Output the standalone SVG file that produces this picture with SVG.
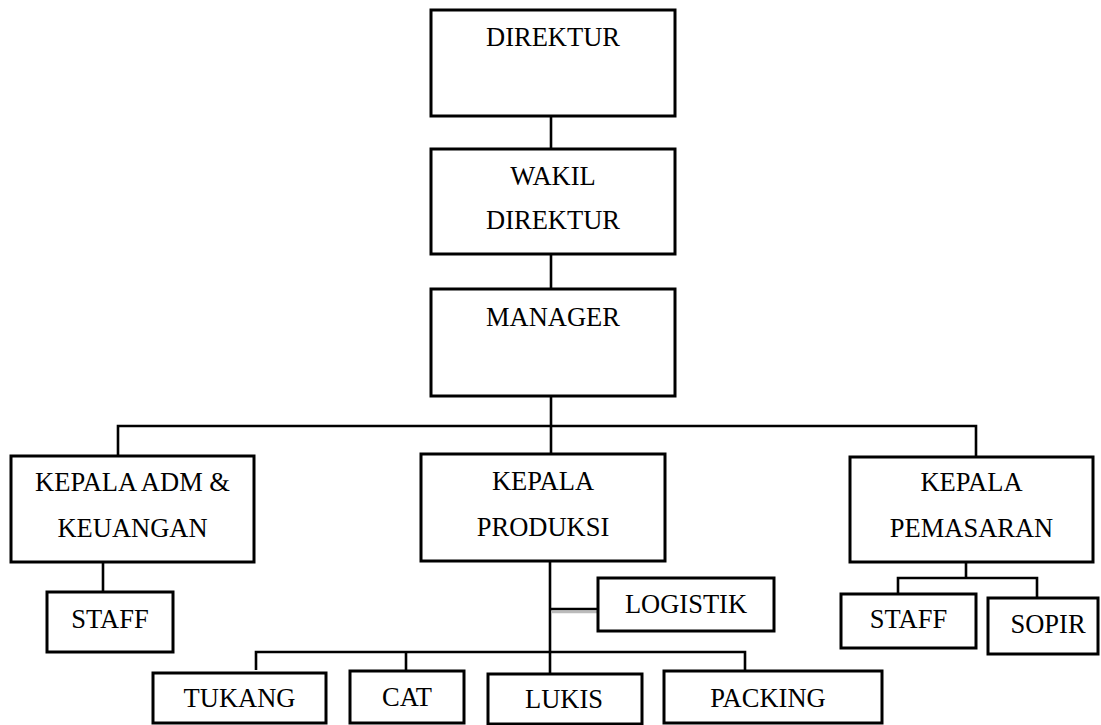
<svg xmlns="http://www.w3.org/2000/svg" width="1101" height="725" viewBox="0 0 1101 725">
<style>
.box{fill:#fff;stroke:#000;stroke-width:3}
.ln{fill:none;stroke:#000;stroke-width:2.6}
text{font-family:"Liberation Serif","Times New Roman",Tinos,serif;font-size:26.5px;fill:#000;text-anchor:middle}
</style>
<rect width="1101" height="725" fill="#fff"/>
<g id="connectors">
<line class="ln" x1="551" y1="116" x2="551" y2="149"/>
<line class="ln" x1="551" y1="254" x2="551" y2="289"/>
<line class="ln" x1="551" y1="396" x2="551" y2="454"/>
<polyline class="ln" points="118,456 118,426 976,426 976,457"/>
<line class="ln" x1="103" y1="562" x2="103" y2="592"/>
<line class="ln" x1="550" y1="561" x2="550" y2="674"/>
<line x1="551" y1="612" x2="598" y2="612" stroke="#bbb" stroke-width="2.5"/>
<line class="ln" x1="550" y1="609" x2="598" y2="609"/>
<polyline class="ln" points="256,670 256,652 745,652 745,671"/>
<line class="ln" x1="406" y1="652" x2="406" y2="671"/>
<line class="ln" x1="966" y1="562" x2="966" y2="578"/>
<polyline class="ln" points="898,594 898,578 1037,578 1037,598"/>
</g>
<g id="direktur"><rect class="box" x="431" y="10" width="244" height="106"/><text x="553" y="46">DIREKTUR</text></g>
<g id="wakil"><rect class="box" x="431" y="149" width="244" height="105"/><text x="553" y="185">WAKIL</text><text x="553" y="229">DIREKTUR</text></g>
<g id="manager"><rect class="box" x="431" y="289" width="244" height="107"/><text x="553" y="326">MANAGER</text></g>
<g id="kepala-adm"><rect class="box" x="11" y="456" width="243" height="106"/><text x="132.5" y="491">KEPALA ADM &amp;</text><text x="132.5" y="537">KEUANGAN</text></g>
<g id="staff-adm"><rect class="box" x="47" y="592" width="126" height="60"/><text x="110" y="628">STAFF</text></g>
<g id="kepala-produksi"><rect class="box" x="421" y="454" width="244" height="107"/><text x="543" y="490">KEPALA</text><text x="543" y="536">PRODUKSI</text></g>
<g id="logistik"><rect class="box" x="598" y="578" width="176" height="53"/><text x="686" y="613">LOGISTIK</text></g>
<g id="kepala-pemasaran"><rect class="box" x="850" y="457" width="243" height="105"/><text x="971.5" y="491">KEPALA</text><text x="971.5" y="537">PEMASARAN</text></g>
<g id="staff-pemasaran"><rect class="box" x="841" y="594" width="135" height="54"/><text x="908.5" y="628">STAFF</text></g>
<g id="sopir"><rect class="box" x="988" y="598" width="110" height="56"/><text x="1048" y="633">SOPIR</text></g>
<g id="tukang"><rect class="box" x="153" y="673" width="173" height="50"/><text x="239.5" y="707">TUKANG</text></g>
<g id="cat"><rect class="box" x="350" y="671" width="114" height="52"/><text x="407" y="706">CAT</text></g>
<g id="lukis"><rect class="box" x="488" y="674" width="154" height="50"/><text x="564" y="708">LUKIS</text></g>
<g id="packing"><rect class="box" x="664" y="671" width="218" height="52"/><text x="768" y="707">PACKING</text></g>
</svg>
